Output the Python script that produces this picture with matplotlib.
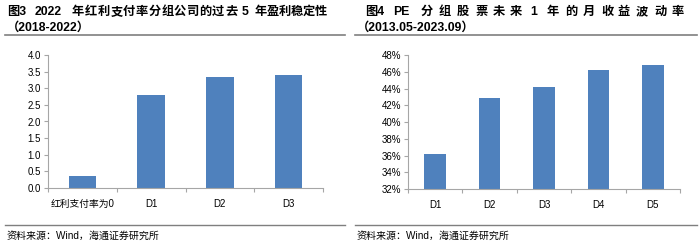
import numpy as np
import matplotlib.pyplot as plt
from matplotlib.ticker import FuncFormatter

plt.rcParams['font.family'] = ['Liberation Sans', 'Noto Sans CJK SC']

# left chart: earnings stability by payout group
left_cats = ['红利支付率为0', 'D1', 'D2', 'D3']
left_vals = [0.37, 2.81, 3.34, 3.41]

# right chart: monthly return volatility by PE group (%)
right_cats = ['D1', 'D2', 'D3', 'D4', 'D5']
right_vals = [36.2, 42.84, 44.15, 46.25, 46.75]

bar_color = '#4F81BD'
axis_color = '#A6A6A6'
W, H = 700, 245

fig = plt.figure(figsize=(7, 2.45), dpi=100)


def px_box(x0, y0, x1, y1):
    return [x0 / W, 1 - y1 / H, (x1 - x0) / W, (y1 - y0) / H]


def style_axes(ax, n):
    for s in ['top', 'right']:
        ax.spines[s].set_visible(False)
    for s in ['left', 'bottom']:
        ax.spines[s].set_color(axis_color)
        ax.spines[s].set_linewidth(0.8)
    ax.set_xlim(-0.5, n - 0.5)
    ax.set_xticks(np.arange(n))
    ax.set_xticks(np.arange(n + 1) - 0.5, minor=True)
    ax.tick_params(axis='x', which='major', length=0, labelsize=7, pad=8)
    ax.tick_params(axis='x', which='minor', length=3, color=axis_color, width=0.8)
    ax.tick_params(axis='y', length=3, color=axis_color, width=0.8, labelsize=7, pad=2)


ax1 = fig.add_axes(px_box(48, 55, 323, 188))
ax1.bar(np.arange(len(left_cats)), left_vals, width=0.4, color=bar_color)
style_axes(ax1, len(left_cats))
ax1.set_ylim(0, 4)
ax1.set_yticks(np.arange(0, 4.01, 0.5))
ax1.yaxis.set_major_formatter(FuncFormatter(lambda v, p: f'{v:.1f}'))
ax1.set_xticklabels(left_cats)

ax2 = fig.add_axes(px_box(408, 55, 680, 189))
ax2.bar(np.arange(len(right_cats)), right_vals, width=0.4, color=bar_color)
style_axes(ax2, len(right_cats))
ax2.set_ylim(32, 48)
ax2.set_yticks(np.arange(32, 48.1, 2))
ax2.yaxis.set_major_formatter(FuncFormatter(lambda v, p: f'{v:.0f}%'))
ax2.set_xticklabels(right_cats)

# titles (justified, so each token placed on its own)
tkw = dict(fontsize=8.8, fontweight='bold', va='center', ha='left')
left_tokens = ['图3', '2022'] + list('年红利支付率分组公司的过去') + ['5'] + list('年盈利稳定性')
left_xs = [7, 35] + [72 + 12.75 * i for i in range(13)] + [242] + [255 + 12 * i for i in range(6)]
for t, x in zip(left_tokens, left_xs):
    fig.text(x / W, 1 - 12 / H, t, **tkw)
fig.text(7 / W, 1 - 28 / H, '（2018-2022）', **tkw)

right_tokens = ['图4', 'PE', '分', '组', '股', '票', '未', '来', '1', '年', '的', '月', '收', '益', '波', '动', '率']
right_xs = [365, 393, 421, 439, 457, 475, 493, 510, 530, 547, 565, 583, 601, 618, 636, 654, 672]
for t, x in zip(right_tokens, right_xs):
    fig.text(x / W, 1 - 12 / H, t, **tkw)
fig.text(357 / W, 1 - 28 / H, '（2013.05-2023.09）', **tkw)

# separator lines
for x0, x1 in [(5, 345), (355, 697)]:
    fig.add_artist(plt.Line2D([x0 / W, x1 / W], [1 - 35 / H] * 2, color='#7F7F7F', lw=1.2))
    fig.add_artist(plt.Line2D([x0 / W, x1 / W], [1 - 225 / H] * 2, color='#7F7F7F', lw=1.0))

fig.text(7 / W, 1 - 236 / H, '资料来源：Wind，海通证券研究所', fontsize=7.2, va='center', ha='left')
fig.text(357 / W, 1 - 236 / H, '资料来源：Wind，海通证券研究所', fontsize=7.2, va='center', ha='left')

fig.savefig('out.png', dpi=100)
